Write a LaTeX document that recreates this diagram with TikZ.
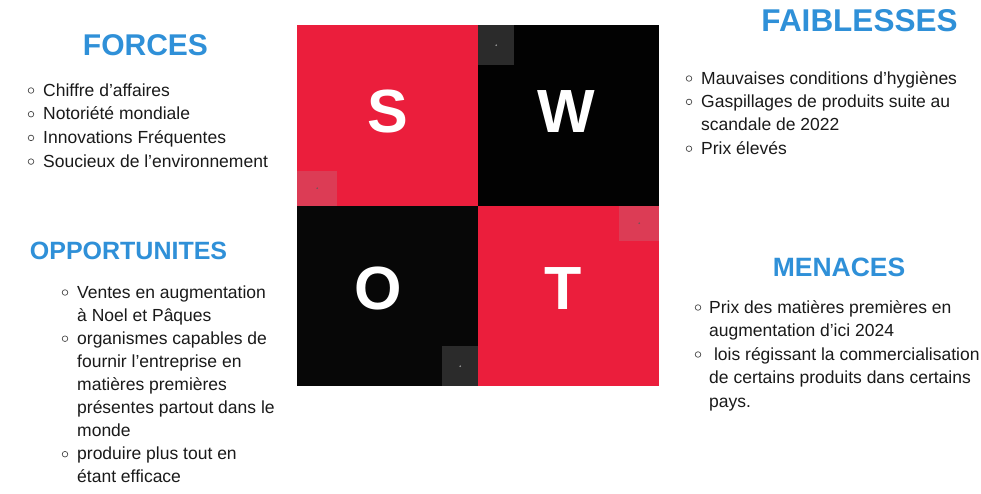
\documentclass[tikz,border=0pt]{standalone}
\usepackage{fontspec}
\setmainfont{Liberation Sans}
\definecolor{swotred}{HTML}{EB1E3C}
\definecolor{swotblack}{HTML}{020202}
\definecolor{swotblackb}{HTML}{070707}
\definecolor{tabred}{HTML}{DC3C55}
\definecolor{tabblack}{HTML}{2B2B2B}
\definecolor{headblue}{HTML}{2F90D8}
\definecolor{textdark}{HTML}{1A1A1A}
\begin{document}
\begin{tikzpicture}[x=1pt,y=-1pt,
  quad/.style={draw=none,inner sep=0pt,anchor=north west,minimum width=181pt,minimum height=180.5pt},
  tab/.style={draw=none,inner sep=0pt,anchor=north west},
  tdot/.style={circle,fill=#1,inner sep=0pt,minimum size=1.6pt},
  letter/.style={text=white,inner sep=0pt,anchor=base,font=\fontsize{61}{61}\selectfont\bfseries},
  head/.style={text=headblue,inner sep=0pt,anchor=base,font=\bfseries},
  item/.style={text=textdark,inner sep=0pt,anchor=base west,font=\fontsize{17.5}{21}\selectfont},
  bul/.style={circle,draw=textdark!80,line width=0.7pt,fill=white,inner sep=0pt,minimum size=5.6pt}
]
\useasboundingbox (0,0) rectangle (981,493);
\fill[white] (0,0) rectangle (981,493);

% quadrants
\node[quad,fill=swotred] (qS) at (297,25) {};
\node[quad,fill=swotblack] (qW) at (478,25) {};
\node[quad,fill=swotblackb] (qO) at (297,205.5) {};
\node[quad,fill=swotred] (qT) at (478,205.5) {};

% small tabs
\node[tab,fill=tabred,minimum width=40pt,minimum height=35pt] (tS) at (297,170.5) {};
\node[tab,fill=tabblack,minimum width=36pt,minimum height=40pt] (tW) at (478,25) {};
\node[tab,fill=tabred,minimum width=40pt,minimum height=35pt] (tT) at (619,205.5) {};
\node[tab,fill=tabblack,minimum width=36pt,minimum height=40pt] (tO) at (442,346) {};
\node[tdot=gray!70!black] (dS) at (tS.center) {};
\node[tdot=gray!60] (dW) at (tW.center) {};
\node[tdot=gray!70!black] (dT) at (tT.center) {};
\node[tdot=gray!60] (dO) at (tO.center) {};

% letters
\node[letter] (lS) at (388,132) {S};
\node[letter] (lW) at (566,132) {W};
\node[letter] (lO) at (378,309) {O};
\node[letter] (lT) at (563,309) {T};

% headings
\node[head,font=\fontsize{30}{30}\selectfont\bfseries] (hF) at (145.5,55) {FORCES};
\node[head,font=\fontsize{31.5}{31.5}\selectfont\bfseries] (hW) at (859.5,31.5) {FAIBLESSES};
\node[head,font=\fontsize{25}{25}\selectfont\bfseries] (hO) at (128.5,259) {OPPORTUNITES};
\node[head,font=\fontsize{26.5}{26.5}\selectfont\bfseries] (hT) at (839,276) {MENACES};

% forces
\foreach \t [count=\i] in {Chiffre d’affaires, Notoriété mondiale, Innovations Fréquentes, Soucieux de l’environnement} {
  \node[item] (f\i) at (43,{96+(\i-1)*23.7}) {\t};
  \node[bul] (fb\i) at (31,{96+(\i-1)*23.7-5.5}) {};
}

% faiblesses
\node[item] (w1) at (701,84) {Mauvaises conditions d’hygiènes};
\node[item] (w2) at (701,107.4) {Gaspillages de produits suite au};
\node[item] (w3) at (701,130.8) {scandale de 2022};
\node[item] (w4) at (701,154.2) {Prix élevés};
\node[bul] (wb1) at (689,78.5) {};
\node[bul] (wb2) at (689,101.9) {};
\node[bul] (wb4) at (689,148.7) {};

% opportunites
\foreach \t [count=\i] in {Ventes en augmentation, à Noel et Pâques, organismes capables de, fournir l’entreprise en, matières premières, présentes partout dans le, monde, produire plus tout en, étant efficace} {
  \node[item] (o\i) at (77,{298+(\i-1)*23.1}) {\t};
}
\node[bul] (ob1) at (65,292.5) {};
\node[bul] (ob3) at (65,338.7) {};
\node[bul] (ob8) at (65,454.2) {};

% menaces
\node[item] (m1) at (709,313) {Prix des matières premières en};
\node[item] (m2) at (709,336.5) {augmentation d’ici 2024};
\node[item] (m3) at (709,360) {\ lois régissant la commercialisation};
\node[item] (m4) at (709,383.5) {de certains produits dans certains};
\node[item] (m5) at (709,407) {pays.};
\node[bul] (mb1) at (698,307.5) {};
\node[bul] (mb3) at (698,354.5) {};
\end{tikzpicture}
\end{document}
